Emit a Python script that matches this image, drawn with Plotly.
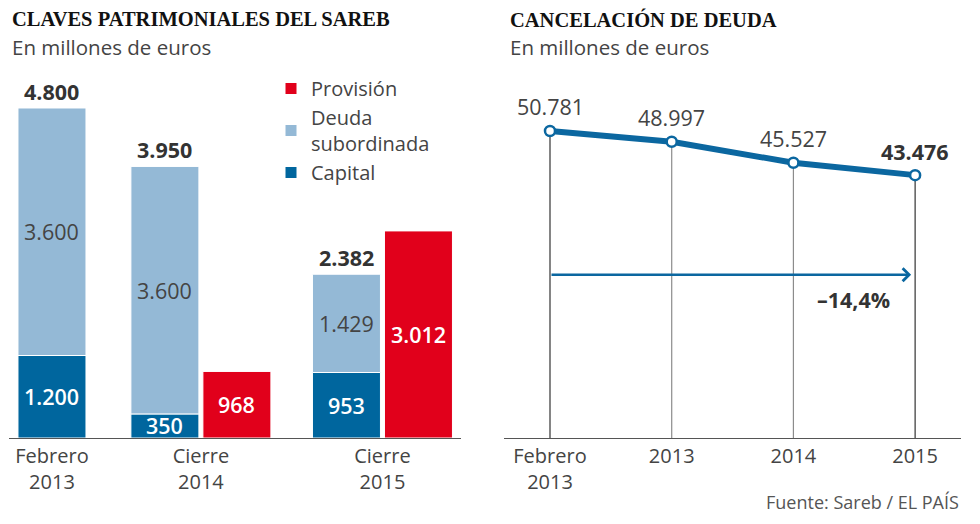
import plotly.graph_objects as go

# --- data ---------------------------------------------------------------
groups = ["Febrero<br>2013", "Cierre<br>2014", "Cierre<br>2015"]
capital = [1200, 350, 953]
deuda = [3600, 3600, 1429]
provision = [None, 968, 3012]

years = ["Febrero<br>2013", "2013", "2014", "2015"]
deuda_total = [50781, 48997, 45527, 43476]

# --- style / layout constants --------------------------------------------
PAGE_OFF = 8                      # default body margin of the html page
W, H = 980 - PAGE_OFF, 524 - PAGE_OFF
BLUE = "#00669e"
LIGHT = "#94b9d6"
RED = "#e1001b"
LINE_BLUE = "#0b67a0"
DARK = "#333333"
GREY = "#444444"
SANS = "Open Sans, Roboto, Arial, sans-serif"
SERIF = "Liberation Serif, Times New Roman, serif"

GROUP_POS = [0, 2.19, 4.86]   # left x-axis, in bar widths
BAR_W = 1.0
GAP = 4 / 68
ARROW_LEVEL = 27000
NUM = 21.5                    # size of the value labels


def px_x(p):
    return (p - PAGE_OFF) / W


def px_y(p):
    return 1 - (p - PAGE_OFF) / H


def fmt(v):
    return f"{v:,}".replace(",", ".")


fig = go.Figure()

# stacked bar (capital + deuda), shifted left when a provision bar sits beside it
stack_off = [-BAR_W / 2 if p is None else -BAR_W - GAP / 2 for p in provision]
stack_mid = [g + o + BAR_W / 2 for g, o in zip(GROUP_POS, stack_off)]
red_mid = [g + GAP / 2 + BAR_W / 2 for g in GROUP_POS]

fig.add_trace(go.Bar(
    x=GROUP_POS, y=capital, offset=stack_off, width=BAR_W, name="Capital",
    marker=dict(color=BLUE, line=dict(color="white", width=1)),
    xaxis="x", yaxis="y", hoverinfo="skip"))
fig.add_trace(go.Bar(
    x=GROUP_POS, y=deuda, base=capital, offset=stack_off, width=BAR_W,
    name="Deuda<br>subordinada",
    marker=dict(color=LIGHT, line=dict(color="white", width=1)),
    xaxis="x", yaxis="y", hoverinfo="skip"))
fig.add_trace(go.Bar(
    x=GROUP_POS, y=provision, offset=GAP / 2, width=BAR_W, name="Provisión",
    marker=dict(color=RED, line=dict(color="white", width=1)),
    xaxis="x", yaxis="y", hoverinfo="skip"))

# right chart: stems down to the axis, then the line
for i, v in enumerate(deuda_total):
    end = i in (0, len(deuda_total) - 1)
    fig.add_trace(go.Scatter(
        x=[years[i], years[i]], y=[0, v], mode="lines",
        line=dict(color="#333333" if end else "#8c8c8c", width=1.2),
        xaxis="x2", yaxis="y2", showlegend=False, hoverinfo="skip"))

fig.add_trace(go.Scatter(
    x=years, y=deuda_total, mode="lines+markers",
    line=dict(color=LINE_BLUE, width=6),
    marker=dict(size=10, color="white", line=dict(color=LINE_BLUE, width=2.5)),
    xaxis="x2", yaxis="y2", showlegend=False, hoverinfo="skip"))

ann = []
# bar labels
for i in range(len(groups)):
    total = capital[i] + deuda[i]
    ann.append(dict(x=stack_mid[i], y=total, text=f"<b>{fmt(total)}</b>",
                    yanchor="bottom", yshift=0, font=dict(size=NUM, color=DARK)))
    ann.append(dict(x=stack_mid[i], y=capital[i] + deuda[i] / 2, text=fmt(deuda[i]),
                    font=dict(size=NUM, color=GREY)))
    ann.append(dict(x=stack_mid[i], y=capital[i] / 2, text=fmt(capital[i]),
                    font=dict(size=NUM, color="white", weight=600)))
    if provision[i] is not None:
        ann.append(dict(x=red_mid[i], y=provision[i] / 2, text=fmt(provision[i]),
                        font=dict(size=NUM, color="white", weight=600)))
for a in ann:
    a.update(xref="x", yref="y", showarrow=False)

# line labels (x given as category index)
for i, v in enumerate(deuda_total):
    last = i == len(deuda_total) - 1
    ann.append(dict(x=i, y=v, xref="x2", yref="y2", showarrow=False,
                    text=f"<b>{fmt(v)}</b>" if last else fmt(v), yshift=24,
                    font=dict(size=NUM, color=DARK if last else GREY)))

change = (deuda_total[-1] - deuda_total[0]) / deuda_total[0] * 100
ann.append(dict(x=len(years) - 1, y=ARROW_LEVEL, ax=0, ay=ARROW_LEVEL,
                xref="x2", yref="y2", axref="x2", ayref="y2", text="",
                showarrow=True, arrowhead=4, arrowsize=1, arrowwidth=2.5,
                standoff=4, arrowcolor=LINE_BLUE))
ann.append(dict(x=len(years) - 1, y=ARROW_LEVEL, xref="x2", yref="y2",
                showarrow=False, xanchor="right", xshift=-23, yshift=-25,
                text="<b>–" + f"{abs(change):.1f}".replace(".", ",") + "%</b>",
                font=dict(size=21.5, color=DARK)))

# titles and source
head = [
    dict(x=px_x(10), y=px_y(19), text="<b>CLAVES PATRIMONIALES DEL SAREB</b>",
         font=dict(family=SERIF, size=20.5, color="#111111")),
    dict(x=px_x(10), y=px_y(47), text="En millones de euros",
         font=dict(size=20.5, color=GREY)),
    dict(x=px_x(508), y=px_y(19), text="<b>CANCELACIÓN DE DEUDA</b>",
         font=dict(family=SERIF, size=20.5, color="#111111")),
    dict(x=px_x(508), y=px_y(47), text="En millones de euros",
         font=dict(size=20.5, color=GREY)),
    dict(x=px_x(961), y=px_y(502), text="Fuente: Sareb / EL PAÍS", xanchor="right",
         font=dict(size=18, color="#555555")),
]
for a in head:
    a.update(xref="paper", yref="paper", showarrow=False, yanchor="middle")
    a.setdefault("xanchor", "left")
ann += head

y_dom = [px_y(438), px_y(60)]
fig.update_layout(
    width=W, height=H, margin=dict(l=0, r=0, t=0, b=0),
    paper_bgcolor="white", plot_bgcolor="white",
    barmode="overlay",
    font=dict(family=SANS, color=GREY),
    xaxis=dict(domain=[px_x(9), px_x(461)], range=[-0.632, 6.015],
               tickvals=GROUP_POS, ticktext=groups, showgrid=False, zeroline=False,
               showline=True, linecolor="#555555", linewidth=1.2, ticks="",
               tickfont=dict(size=20, color=GREY), fixedrange=True),
    yaxis=dict(domain=y_dom, range=[0, 5498], visible=False, fixedrange=True),
    xaxis2=dict(domain=[px_x(504), px_x(961)], range=[-0.378, 3.377],
                type="category", categoryarray=years, showgrid=False, zeroline=False,
                showline=True, linecolor="#555555", linewidth=1.2, ticks="",
                tickfont=dict(size=20, color=GREY), fixedrange=True),
    yaxis2=dict(domain=y_dom, range=[0, 62520], visible=False, anchor="x2",
                fixedrange=True),
    legend=dict(x=px_x(271), y=px_y(69), xanchor="left", yanchor="top",
                traceorder="reversed", font=dict(size=20, color=GREY),
                bgcolor="rgba(0,0,0,0)", itemclick=False, itemdoubleclick=False),
    annotations=ann,
    showlegend=True,
)

fig.write_html("out.html", config={"displayModeBar": False})
